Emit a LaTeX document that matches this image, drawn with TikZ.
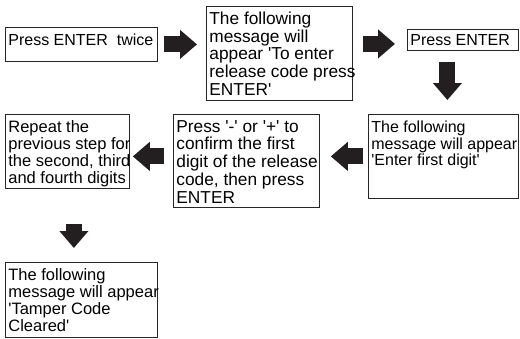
\documentclass[tikz,border=0pt]{standalone}
\usepackage{fontspec}
\setmainfont{Liberation Sans}
\usetikzlibrary{positioning}
\usetikzlibrary{arrows.meta}
\usetikzlibrary{calc}

\definecolor{arrowgray}{HTML}{231F20}
\newcommand{\q}{\textquotesingle}
\newcommand{\steptext}[4]{%
  \begin{minipage}[t][#2][t]{#1}\vspace*{#3}%
  \begin{tabular}[t]{@{}l@{}}#4\end{tabular}\end{minipage}}

\tikzset{
  stepbox/.style={draw=black!85, line width=0.8pt, anchor=north west,
    inner xsep=3pt, inner ysep=0pt,
    font=\fontsize{16.5}{16.7}\selectfont},
  bigarrow/.style={draw=arrowgray, line width=16pt,
    -{Triangle[length=17pt,width=28pt]}}
}

\begin{document}
\begin{tikzpicture}[x=1pt,y=-1pt]

      \useasboundingbox (0,0) rectangle (520,338);

      % top row
      \node[stepbox, font=\fontsize{16}{16.3}\selectfont] (enter2) at (5,27)
        {\steptext{146pt}{34pt}{6.5pt}{Press ENTER~ twice}};
      \node[stepbox, font=\fontsize{17.3}{17.75}\selectfont] (msgcode) at (206,6)
        {\steptext{140pt}{94pt}{5.4pt}{The following\\ message will\\
          appear \q To enter\\ release code press\\ ENTER\q}};
      \node[stepbox, font=\fontsize{16}{16.3}\selectfont] (enter1) at (407,29)
        {\steptext{105pt}{21pt}{4.6pt}{Press ENTER}};

      % middle row
      \node[stepbox, font=\fontsize{16}{16.3}\selectfont] (msgdigit) at (368,114)
        {\steptext{144pt}{84pt}{6.9pt}{The following\\ message will appear\\
          \q Enter first digit\q}};
      \node[stepbox, font=\fontsize{17.3}{17.75}\selectfont] (confirm) at (173,114)
        {\steptext{140pt}{93pt}{5.3pt}{Press \q-\q{} or \q+\q{} to\\ confirm the first\\
          digit of the release\\ code, then press\\ ENTER}};
      \node[stepbox] (repeat) at (5,114)
        {\steptext{118pt}{74pt}{6pt}{Repeat the\\ previous step for\\
          the second, third\\ and fourth digits}};

      % bottom
      \node[stepbox] (msgclear) at (5,262)
        {\steptext{146pt}{75pt}{6.6pt}{The following\\ message will appear\\
          \q Tamper Code\\ Cleared\q}};

      % fat arrows
      \draw[bigarrow, shorten <=6pt, shorten >=9pt]
        (enter2.east) -- (enter2.east -| msgcode.west);
      \draw[bigarrow, shorten <=10pt, shorten >=12pt]
        ([yshift=9.5pt]msgcode.east) -- ([yshift=9.5pt]msgcode.east -| enter1.west);
      \draw[bigarrow, shorten <=11pt, shorten >=14pt]
        ([xshift=-15.5pt]enter1.south) -- ([xshift=-15.5pt]enter1.south |- msgdigit.north);
      \draw[bigarrow, shorten <=5pt, shorten >=11pt]
        (msgdigit.west) -- (msgdigit.west -| confirm.east);
      \draw[bigarrow, shorten <=9pt, shorten >=3pt]
        ([yshift=4.5pt]confirm.west) -- ([yshift=4.5pt]confirm.west -| repeat.east);
      \draw[bigarrow, shorten <=35pt, shorten >=14pt]
        ([xshift=6.5pt]repeat.south) -- ([xshift=6.5pt]repeat.south |- msgclear.north);

\end{tikzpicture}
\end{document}
